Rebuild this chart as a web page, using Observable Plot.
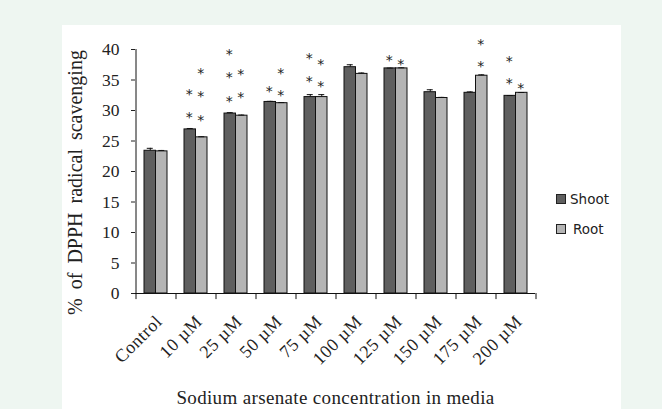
<!DOCTYPE html>
<html>
<head>
<meta charset="utf-8">
<script src="https://cdn.jsdelivr.net/npm/d3@7"></script>
<script src="https://cdn.jsdelivr.net/npm/@observablehq/plot@0.6"></script>
<style>
  html, body { margin: 0; padding: 0; }
  body { width: 662px; height: 409px; background: #eef6f1; position: relative; overflow: hidden; }
  #panel { position: absolute; left: 62px; top: 25px; width: 559px; height: 384px; background: #ffffff; }
  #chart { position: absolute; left: 0; top: 0; }
  .legend { position: absolute; font-family: "DejaVu Sans", sans-serif; font-size: 13.5px; color: #222; display: flex; align-items: center; }
  .legend .sw { width: 8px; height: 8px; border: 1px solid #222; margin-right: 4px; }
</style>
</head>
<body>
<div id="panel"></div>
<div id="chart"></div>
<div class="legend" style="left:556px; top:191px;"><span class="sw" style="background:#5f5f5f"></span>Shoot</div>
<div class="legend" style="left:556px; top:221px;"><span class="sw" style="background:#b4b4b4; margin-right:7px"></span>Root</div>
<script>
const categories = ["Control", "10 µM", "25 µM", "50 µM", "75 µM", "100 µM", "125 µM", "150 µM", "175 µM", "200 µM"];
const seriesNames = ["Shoot", "Root"];
const shootValues = [23.4, 26.9, 29.5, 31.4, 32.2, 37.1, 36.9, 33.0, 32.9, 32.4];
const rootValues  = [23.3, 25.6, 29.15, 31.2, 32.2, 36.0, 36.9, 32.05, 35.7, 32.9];
const shootErrors = [0.4, 0.15, 0.15, 0.1, 0.4, 0.4, 0.05, 0.4, 0.15, 0.05];
const rootErrors  = [0.15, 0.1, 0.1, 0.1, 0.4, 0.15, 0.1, 0.1, 0.15, 0.05];
// heights (in % units) of the significance asterisks above each bar
const shootStars = [[], [29.5, 33.3], [32.2, 36.1, 39.8], [33.75], [35.4, 39.1], [], [38.9], [], [], [35.0, 38.7]];
const rootStars  = [[], [29.0, 33.0, 36.7], [32.8, 36.5], [33.1, 36.8], [34.6, 38.2], [], [38.2], [], [37.9, 41.5], [34.2]];
const yTicks = [0, 5, 10, 15, 20, 25, 30, 35, 40];

const colors = {Shoot: "#5f5f5f", Root: "#b4b4b4"};

const rows = [];
categories.forEach((c, i) => {
  rows.push({cat: c, series: "Shoot", value: shootValues[i], err: shootErrors[i]});
  rows.push({cat: c, series: "Root", value: rootValues[i], err: rootErrors[i]});
});
const stars = [];
categories.forEach((c, i) => {
  shootStars[i].forEach(y => stars.push({cat: c, series: "Shoot", y}));
  rootStars[i].forEach(y => stars.push({cat: c, series: "Root", y}));
});

const W = 662, H = 409;
const mL = 135, mR = 127, mT = 49, mB = 116;
const step = (W - mL - mR) / categories.length;
const pIn = 0.425;
const bw = step * (1 - pIn);
const half = bw / 2;
const q = bw / 4;
const cap = 3;

const shoot = rows.filter(d => d.series === "Shoot");
const root = rows.filter(d => d.series === "Root");

const serif = "'Liberation Serif', 'Times New Roman', serif";

const chart = Plot.plot({
  width: W, height: H,
  marginLeft: mL, marginRight: mR, marginTop: mT, marginBottom: mB,
  style: {background: "transparent", fontFamily: serif, color: "#222"},
  x: {domain: categories, paddingInner: pIn, paddingOuter: pIn / 2, axis: null},
  y: {domain: [0, 40], axis: null},
  marks: [
    Plot.barY(shoot, {x: "cat", y: "value", insetRight: half, fill: colors.Shoot, stroke: "#111", strokeWidth: 1}),
    Plot.barY(root, {x: "cat", y: "value", insetLeft: half, fill: colors.Root, stroke: "#111", strokeWidth: 1}),
    // error bars
    Plot.ruleX(shoot, {x: "cat", y1: "value", y2: d => d.value + d.err, dx: -q, stroke: "#111"}),
    Plot.ruleX(root, {x: "cat", y1: "value", y2: d => d.value + d.err, dx: q, stroke: "#111"}),
    Plot.tickY(shoot, {x: "cat", y: d => d.value + d.err, insetLeft: q - cap, insetRight: bw - q - cap, stroke: "#111"}),
    Plot.tickY(root, {x: "cat", y: d => d.value + d.err, insetLeft: bw - q - cap, insetRight: q - cap, stroke: "#111"}),
    // asterisks
    Plot.text(stars.filter(d => d.series === "Shoot"), {x: "cat", y: "y", text: () => "*", dx: -q - 1, dy: 4, fontSize: 14, fontFamily: "'DejaVu Sans', sans-serif", fill: "#222"}),
    Plot.text(stars.filter(d => d.series === "Root"), {x: "cat", y: "y", text: () => "*", dx: q - 1, dy: 4, fontSize: 14, fontFamily: "'DejaVu Sans', sans-serif", fill: "#222"}),
    // axes
    Plot.ruleY([0], {stroke: "#111"}),
    Plot.ruleX([categories[0]], {x: d => d, y1: 0, y2: 40, dx: -step / 2, stroke: "#111"}),
    Plot.ruleX(categories, {x: d => d, y1: 0, y2: -1, dx: -step / 2, stroke: "#111"}),
    Plot.ruleX([categories[categories.length - 1]], {x: d => d, y1: 0, y2: -1, dx: step / 2, stroke: "#111"}),
    Plot.axisY({ticks: yTicks, tickSize: 4, tickPadding: 12, label: null, fontSize: 17.5, tickFormat: d => String(d), fill: "#222"}),
    Plot.axisX({tickRotate: -45, tickSize: 0, tickPadding: 25, dx: 3, label: null, fontSize: 18, fill: "#222"}),
    Plot.text(["Sodium arsenate concentration in media"], {frameAnchor: "bottom", dy: 110, text: d => d, fontSize: 19, fontFamily: serif, fill: "#222"}),
    Plot.text(["% of DPPH radical scavenging"], {frameAnchor: "left", textAnchor: "middle", dx: -60, dy: 11, rotate: -90, text: d => d, fontSize: 20, fontFamily: serif, fill: "#222"})
  ]
});
document.getElementById("chart").appendChild(chart);
d3.select(chart).selectAll("g[aria-label='x-axis tick label'] text").style("letter-spacing", "0.5px");
d3.select(chart).selectAll("text").filter(function() { return this.textContent.startsWith("% of"); }).style("word-spacing", "4px");
d3.select(chart).selectAll("text").filter(function() { return this.textContent.startsWith("Sodium"); }).style("letter-spacing", "0.35px");
</script>
</body>
</html>
